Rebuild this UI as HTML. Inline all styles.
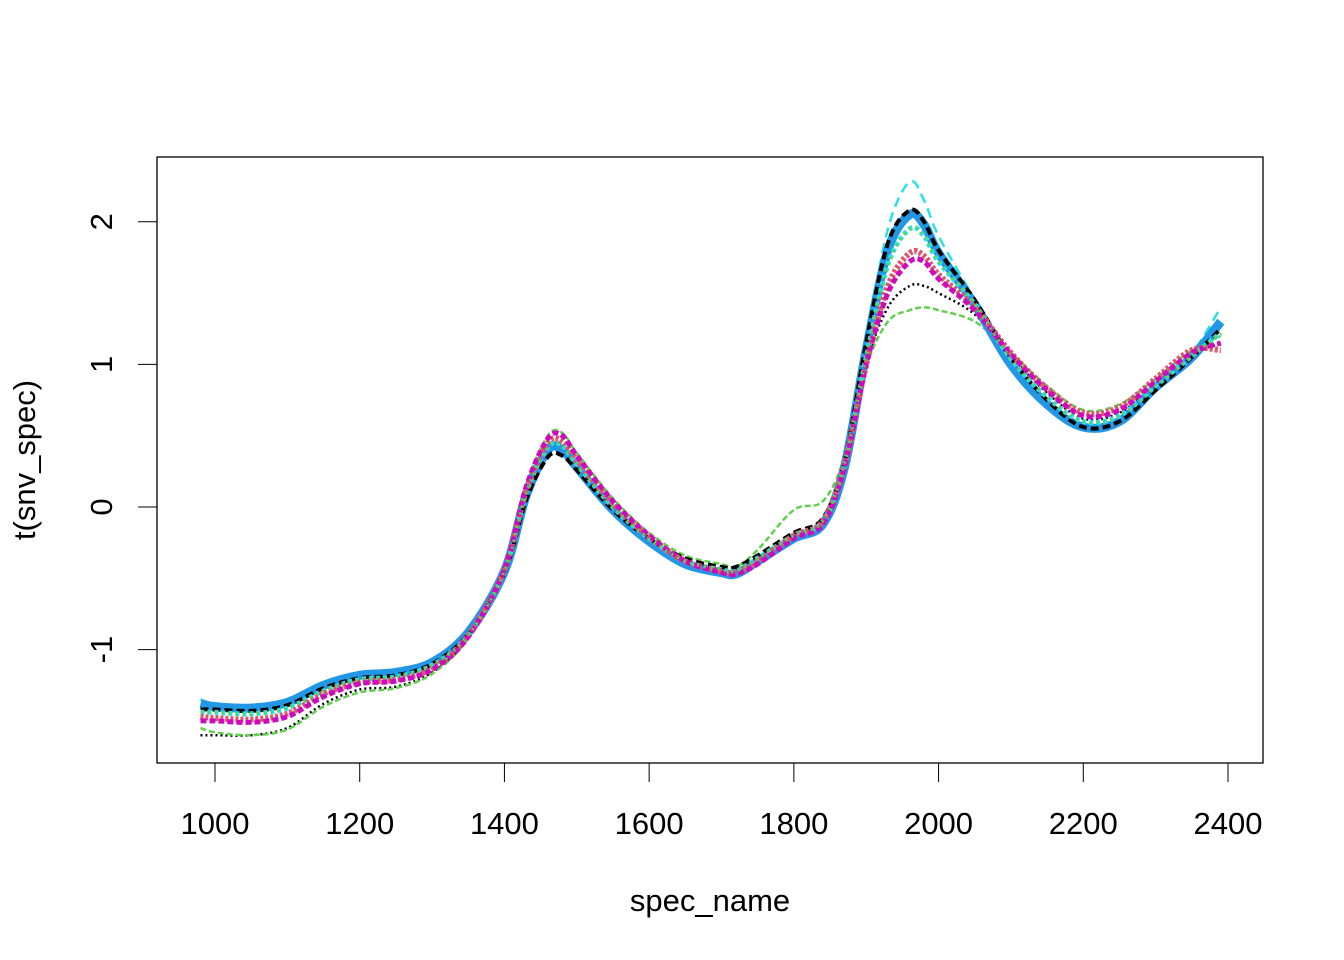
<!DOCTYPE html>
<html><head><meta charset="utf-8"><style>
body{margin:0;background:#fff}
svg{display:block;font-family:"Liberation Sans",Arial,sans-serif}
</style></head><body>
<svg id="chart" width="1344" height="960" viewBox="0 0 1344 960">
<rect x="157" y="157" width="1106" height="606" fill="none" stroke="#000" stroke-width="1.3"/>
<g id="series"></g>
<g id="axes"></g>
<text x="710" y="911" font-size="31" text-anchor="middle">spec_name</text>
<text transform="translate(35,460) rotate(-90)" font-size="31" text-anchor="middle">t(snv_spec)</text>
</svg>
<script>
const wavelengths=[980,1000,1050,1100,1150,1200,1250,1300,1350,1400,1430,1460,1480,1500,1550,1600,1650,1700,1720,1750,1800,1840,1870,1900,1930,1960,1980,2000,2050,2100,2150,2200,2250,2300,2350,2390];
const s1=[-1.42,-1.42,-1.43,-1.39,-1.27,-1.2,-1.18,-1.1,-0.89,-0.46,0.05,0.35,0.36,0.26,-0.02,-0.22,-0.36,-0.42,-0.42,-0.34,-0.18,-0.08,0.32,1.15,1.85,2.08,2.0,1.8,1.45,1.05,0.75,0.56,0.6,0.82,1.05,1.25];
const s2=[-1.38,-1.4,-1.41,-1.37,-1.25,-1.18,-1.16,-1.09,-0.88,-0.45,0.08,0.4,0.4,0.28,-0.02,-0.24,-0.4,-0.46,-0.47,-0.38,-0.22,-0.12,0.28,1.1,1.8,2.05,1.98,1.78,1.42,1.0,0.72,0.56,0.6,0.84,1.05,1.3];
const s3=[-1.5,-1.5,-1.51,-1.47,-1.33,-1.24,-1.22,-1.14,-0.91,-0.44,0.14,0.48,0.5,0.36,0.04,-0.2,-0.38,-0.46,-0.47,-0.4,-0.22,-0.12,0.28,1.0,1.5,1.72,1.72,1.6,1.38,1.07,0.82,0.64,0.68,0.88,1.08,1.15];
const s4=[-1.47,-1.48,-1.49,-1.45,-1.31,-1.23,-1.21,-1.13,-0.9,-0.44,0.12,0.45,0.46,0.33,0.02,-0.21,-0.38,-0.45,-0.46,-0.38,-0.2,-0.1,0.3,1.0,1.55,1.78,1.76,1.63,1.4,1.08,0.83,0.66,0.7,0.9,1.1,1.1];
const s5=[-1.55,-1.58,-1.6,-1.56,-1.4,-1.3,-1.27,-1.17,-0.92,-0.43,0.15,0.5,0.52,0.38,0.06,-0.18,-0.34,-0.4,-0.42,-0.3,-0.02,0.04,0.35,0.98,1.3,1.38,1.4,1.38,1.3,1.08,0.85,0.68,0.72,0.9,1.1,1.2];
const s6=[-1.35,-1.38,-1.39,-1.35,-1.24,-1.17,-1.15,-1.08,-0.88,-0.46,0.06,0.38,0.39,0.27,-0.03,-0.25,-0.41,-0.47,-0.48,-0.4,-0.24,-0.14,0.26,1.15,1.95,2.28,2.15,1.9,1.45,0.98,0.7,0.58,0.62,0.86,1.08,1.4];
const s7=[-1.6,-1.6,-1.6,-1.55,-1.38,-1.28,-1.26,-1.16,-0.92,-0.44,0.1,0.4,0.42,0.3,0.0,-0.22,-0.38,-0.44,-0.44,-0.36,-0.22,-0.12,0.3,1.0,1.4,1.55,1.55,1.5,1.35,1.06,0.8,0.62,0.66,0.86,1.06,1.15];
const s8=[-1.44,-1.44,-1.45,-1.41,-1.29,-1.21,-1.19,-1.11,-0.9,-0.45,0.1,0.42,0.43,0.3,0.0,-0.22,-0.38,-0.44,-0.45,-0.36,-0.2,-0.1,0.3,1.05,1.7,1.95,1.9,1.72,1.42,1.04,0.77,0.6,0.64,0.85,1.06,1.22];
const xTicks=[1000,1200,1400,1600,1800,2000,2200,2400];
const yTicks=[-1,0,1,2];

const NS='http://www.w3.org/2000/svg';
function xS(v){return 215+(v-1000)*(1228-215)/1400;}
function yS(v){return 507-v*142.6;}
function smoothPath(pts){
 let d='M'+pts[0][0].toFixed(1)+','+pts[0][1].toFixed(1);
 for(let i=0;i<pts.length-1;i++){
  const p0=pts[Math.max(0,i-1)],p1=pts[i],p2=pts[i+1],p3=pts[Math.min(pts.length-1,i+2)];
  const c1x=p1[0]+(p2[0]-p0[0])/6,c1y=p1[1]+(p2[1]-p0[1])/6;
  const c2x=p2[0]-(p3[0]-p1[0])/6,c2y=p2[1]-(p3[1]-p1[1])/6;
  d+='C'+c1x.toFixed(1)+','+c1y.toFixed(1)+' '+c2x.toFixed(1)+','+c2y.toFixed(1)+' '+p2[0].toFixed(1)+','+p2[1].toFixed(1);
 }
 return d;
}
const seriesList=[
 {d:s7,c:'#000000',dash:'2 3',w:2.5},
 {d:s5,c:'#61D04F',dash:'6 3',w:2.5},
 {d:s6,c:'#28E2E5',dash:'10 6',w:2.5},
 {d:s2,c:'#2297E6',dash:'',w:9},
 {d:s1,c:'#000000',dash:'8 4',w:4},
 {d:s8,c:'#28E2E5',dash:'4 3',w:5},
 {d:s4,c:'#DF536B',dash:'3 2',w:6},
 {d:s3,c:'#CD0BBC',dash:'6 3',w:5},
 {d:s8,c:'#61D04F',dash:'2 5',w:3}
];
const sg=document.getElementById('series');
seriesList.forEach((s,i)=>{
 const p=document.createElementNS(NS,'path');
 const pts=wavelengths.map((w,j)=>[xS(w),yS(s.d[j])]);
 p.setAttribute('d',smoothPath(pts));p.setAttribute('fill','none');p.setAttribute('stroke',s.c);
 p.setAttribute('stroke-width',s.w);p.setAttribute('stroke-linejoin','round');
 if(s.dash)p.setAttribute('stroke-dasharray',s.dash);
 
 
 sg.appendChild(p);
});
const ag=document.getElementById('axes');
const xl=document.createElementNS(NS,'line');
xl.setAttribute('x1',xS(1000));xl.setAttribute('x2',xS(2400));xl.setAttribute('y1',763);xl.setAttribute('y2',763);xl.setAttribute('stroke','#000');


ag.appendChild(xl);
xTicks.forEach(t=>{
 const l=document.createElementNS(NS,'line');
 l.setAttribute('x1',xS(t));l.setAttribute('x2',xS(t));l.setAttribute('y1',763);l.setAttribute('y2',782);l.setAttribute('stroke','#000');
 
 
 ag.appendChild(l);
 const tx=document.createElementNS(NS,'text');
 tx.setAttribute('x',xS(t));tx.setAttribute('y',834);tx.setAttribute('font-size','31');tx.setAttribute('text-anchor','middle');
 tx.textContent=t;
 
 
 ag.appendChild(tx);
});
const yl=document.createElementNS(NS,'line');
yl.setAttribute('x1',157);yl.setAttribute('x2',157);yl.setAttribute('y1',yS(-1));yl.setAttribute('y2',yS(2));yl.setAttribute('stroke','#000');


ag.appendChild(yl);
yTicks.forEach(t=>{
 const l=document.createElementNS(NS,'line');
 l.setAttribute('x1',138);l.setAttribute('x2',157);l.setAttribute('y1',yS(t));l.setAttribute('y2',yS(t));l.setAttribute('stroke','#000');
 
 
 ag.appendChild(l);
 const tx=document.createElementNS(NS,'text');
 tx.setAttribute('transform','translate(112,'+yS(t)+') rotate(-90)');tx.setAttribute('font-size','31');tx.setAttribute('text-anchor','middle');
 tx.textContent=t;
 
 
 ag.appendChild(tx);
});
</script>
</body></html>
